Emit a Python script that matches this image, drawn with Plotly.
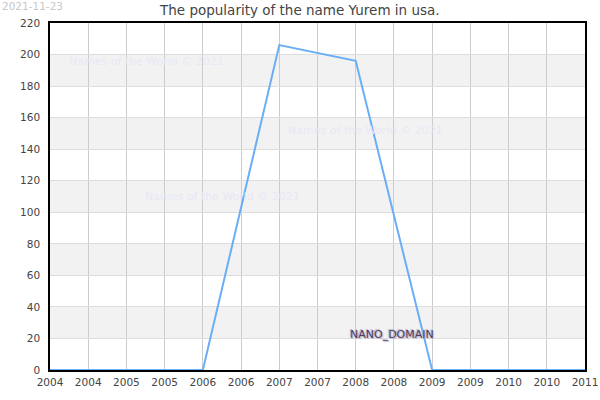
import plotly.graph_objects as go

years = [2004, 2005, 2006, 2007, 2008, 2009, 2010, 2011]
counts = [0, 0, 0, 206, 196, 0, 0, 0]
tick_vals = [2004 + 0.5 * i for i in range(15)]
tick_text = [str(int(v)) for v in tick_vals]
band_ranges = [(20, 40), (60, 80), (100, 120), (140, 160), (180, 200)]

FONT = "DejaVu Sans, Verdana, sans-serif"

fig = go.Figure()
fig.add_trace(go.Scatter(
    x=years, y=counts, mode="lines",
    line=dict(color="#6aaef5", width=2),
    hoverinfo="x+y", showlegend=False,
))

shapes = []
for lo, hi in band_ranges:
    shapes.append(dict(type="rect", xref="paper", yref="y", x0=0, x1=1, y0=lo, y1=hi,
                       fillcolor="#f2f2f2", line=dict(width=0), layer="below"))

annotations = [
    dict(text="The popularity of the name Yurem in usa.", xref="paper", yref="paper",
         x=0.467, y=1.0, yshift=13, showarrow=False,
         font=dict(size=13.5, color="#444", family=FONT),
         xanchor="center", yanchor="middle"),
    dict(text="2021-11-23", xref="paper", yref="paper", x=-0.0935, y=1.0, yshift=17,
         showarrow=False, font=dict(size=10.5, color="#c8c8c8", family=FONT),
         xanchor="left", yanchor="middle"),
]
for (px, py) in [(0.181, 0.888), (0.59, 0.689), (0.323, 0.499)]:
    annotations.append(dict(text="Names of the World © 2021", xref="paper", yref="paper",
                            x=px, y=py, showarrow=False, xanchor="center", yanchor="middle",
                            font=dict(size=11, color="#e8e8f6", family=FONT)))
annotations.append(dict(text="NANO_DOMAIN", xref="paper", yref="paper", x=0.639, y=0.101,
                        showarrow=False, xanchor="center", yanchor="middle",
                        font=dict(size=11, color="#4b3d5e", family=FONT,
                                  shadow="1px 1px 1px #b9aec8, -1px -1px 1px #b9aec8")))

fig.update_layout(
    width=600, height=400,
    margin=dict(l=50, r=15, t=23, b=30, autoexpand=False),
    paper_bgcolor="white", plot_bgcolor="white",
    font=dict(family=FONT, size=10.5, color="#444"),
    shapes=shapes, annotations=annotations,
    xaxis=dict(range=[2004, 2011], tickvals=tick_vals, ticktext=tick_text,
               showgrid=True, gridcolor="#cccccc", gridwidth=1,
               showline=True, linecolor="black", linewidth=1.5, mirror=True,
               ticks="", zeroline=False, ticklabelstandoff=2,
               tickfont=dict(size=10.5, color="#444")),
    yaxis=dict(range=[0, 220], dtick=20, showgrid=True, gridcolor="#dddddd", gridwidth=1,
               showline=True, linecolor="black", linewidth=1.5, mirror=True,
               ticks="", zeroline=False, ticklabelstandoff=6,
               tickfont=dict(size=10.5, color="#444")),
)

fig.write_html("out.html", config={"displayModeBar": False},
               post_script="document.body.style.margin='0';document.body.style.padding='0';")
